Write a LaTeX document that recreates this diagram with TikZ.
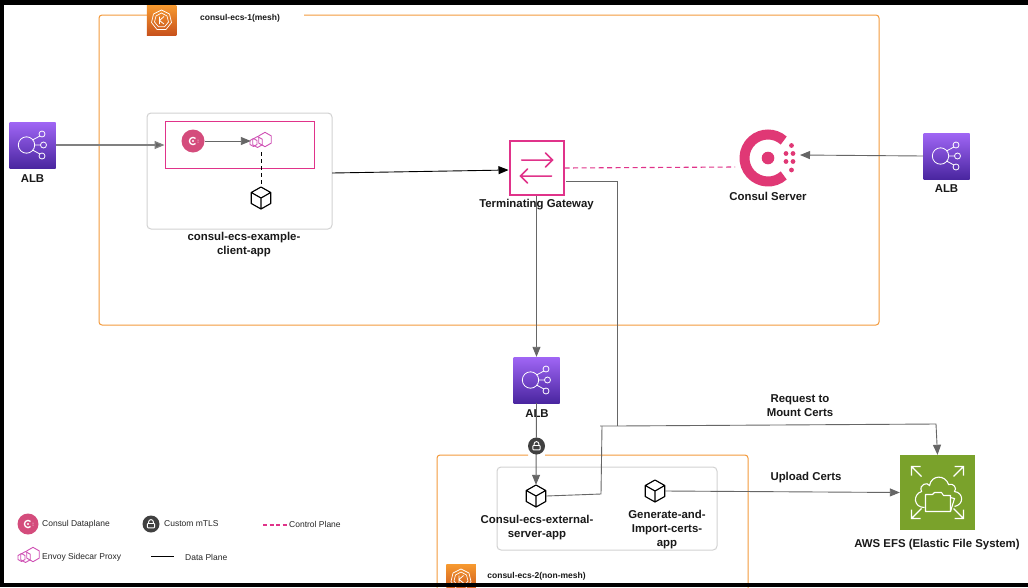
\documentclass[tikz,border=0pt]{standalone}
\usepackage{fontspec}
\setmainfont{Liberation Sans}
\usetikzlibrary{arrows.meta,calc}
\definecolor{orangeline}{HTML}{F39A3C}
\definecolor{pinkline}{HTML}{E0338A}
\definecolor{consulpink}{HTML}{E03875}
\definecolor{dataplanepink}{HTML}{D44C7C}
\definecolor{envoypink}{HTML}{CF4FB4}
\definecolor{flowgray}{HTML}{666666}
\definecolor{softgray}{HTML}{808080}
\definecolor{groupgray}{HTML}{D2D2D2}
\definecolor{lockgray}{HTML}{404040}
\definecolor{efsgreen}{HTML}{7AA22B}
\definecolor{albtop}{HTML}{A066F5}
\definecolor{albbot}{HTML}{4A26A0}
\definecolor{kubetop}{HTML}{F79A30}
\definecolor{kubebot}{HTML}{C8521C}
\tikzset{
  x=1pt,y=-1pt,
  cap10/.style={font=\fontsize{11.4}{14}\selectfont\bfseries,align=center,inner sep=0pt,text=black!90},
  cap8/.style={font=\fontsize{8.5}{10}\selectfont\bfseries,inner sep=0pt,text=black!90},
  legendtext/.style={font=\fontsize{8.5}{10}\selectfont,inner sep=0pt,anchor=west,text=black!85},
  flow/.style={draw=flowgray,line width=.9pt,-{Triangle[length=10pt,width=8pt]}},
  softflow/.style={draw=softgray,line width=1.3pt,-{Triangle[length=10pt,width=8pt,fill=flowgray]}},
  flowplain/.style={draw=flowgray,line width=.9pt},
  blackflow/.style={draw=black,line width=.9pt,-{Triangle[length=10pt,width=8pt]}},
  ctrl/.style={draw=pinkline,line width=1.1pt,dash pattern=on 5pt off 3.5pt},
  orangebox/.style={draw=orangeline,line width=1pt,rounded corners=3pt},
  groupbox/.style={draw=groupgray,line width=1pt,rounded corners=4pt},
  albshade/.style={shape=rectangle,minimum width=46pt,minimum height=46pt,inner sep=0pt,shade,shading angle=-35,top color=albtop,bottom color=albbot},
  kubeshade/.style={shape=rectangle,minimum width=29.5pt,minimum height=30pt,inner sep=0pt,shade,shading angle=-35,top color=kubetop,bottom color=kubebot},
  iconnode/.style={shape=rectangle,inner sep=0pt,minimum size=1pt},
  pics/albicon/.style={code={
    \draw[white,line width=.8pt] (-6,0) circle (8.2);
    \draw[white,line width=.8pt] (9.5,-11) circle (3) (11,0) circle (3) (9.5,11) circle (3);
    \draw[white,line width=.8pt] (0,-5) -- (7.4,-9) (2.2,0) -- (8,0) (0,5) -- (7.4,9);
  }},
  pics/cube/.style={code={
    \draw[black,line width=1.15pt,line join=round]
      (0,-11) -- (9.7,-5.5) -- (9.7,5.5) -- (0,11) -- (-9.7,5.5) -- (-9.7,-5.5) -- cycle
      (-9.7,-5.5) -- (0,0) -- (9.7,-5.5) (0,0) -- (0,11);
  }},
  pics/envoy/.style={code={
    \foreach \cx/\cy/\r in {-8.5/1.5/4,-4.5/1/5.5,3/-1.5/7.2}{
      \draw[envoypink,line width=.9pt,line join=round]
       (\cx,\cy-\r) -- (\cx+.87*\r,\cy-.5*\r) -- (\cx+.87*\r,\cy+.5*\r) -- (\cx,\cy+\r) -- (\cx-.87*\r,\cy+.5*\r) -- (\cx-.87*\r,\cy-.5*\r) -- cycle;
    }
  }},
  pics/kube/.style={code={
    \draw[white,line width=.7pt,line join=round]
      (0,-10) -- (8,-6) -- (10,2.5) -- (4.5,9.5) -- (-4.5,9.5) -- (-10,2.5) -- (-8,-6) -- cycle;
    \draw[white,line width=.7pt,line join=round]
      (0,-7) -- (5.5,-4) -- (7,2) -- (3,6.8) -- (-3,6.8) -- (-7,2) -- (-5.5,-4) -- cycle;
    \draw[white,line width=.8pt] (-2,-3.5) -- (-2,4) (2.5,-3.5) -- (-2,.5) -- (2.5,4);
  }},
  pics/miniconsul/.style={code={
    \draw[white,line width=1.3pt] (45:3.6) arc[start angle=45,end angle=315,radius=3.6];
    \fill[white] (0,0) circle (1.1);
    \fill[white] (5,-1) circle (.5) (5,1) circle (.5);
  }},
  pics/padlock/.style={code={
    \draw[white,line width=.9pt] (-2.4,-.5) -- (-2.4,-2) arc[start angle=180,end angle=360,radius=2.4] -- (2.4,-.5);
    \draw[white,line width=.9pt,rounded corners=.6pt] (-3.6,-.5) rectangle (3.6,3.8);
  }},
}
\begin{document}
\begin{tikzpicture}
\useasboundingbox (0,0) rectangle (1028,587);
\fill[white] (0,0) rectangle (1028,587);

% containers
\draw[orangebox] (147,15) -- (99,15) -- (99,325) -- (879,325) -- (879,15) -- (304,15);
\draw[orangebox] (545,455) -- (748,455) -- (748,600) -- (437,600) -- (437,455) -- (528,455);
\node[kubeshade] (kube1) at (161.5,20) {};
\pic at (kube1) {kube};
\node[kubeshade] (kube2) at (461,579) {};
\pic at (kube2) {kube};
\node[cap8] (kube1label) at (240,18.5) {consul-ecs-1(mesh)};
\node[cap8] (kube2label) at (536.5,576.5) {consul-ecs-2(non-mesh)};

\draw[groupbox] (147,113) rectangle (332,229);
\node[minimum width=185pt,minimum height=116pt,inner sep=0pt] (clientgroup) at (239.5,171) {};
\draw[groupbox] (497,467) rectangle (717,550);
\node[draw=pinkline,line width=1pt,minimum width=149pt,minimum height=47pt,inner sep=0pt] (sidecar) at (239.5,144.5) {};

% ALBs
\node[albshade] (alb1) at (32.5,145) {};
\pic at (alb1) {albicon};
\node[cap10] (alb1label) at (32.5,178.5) {ALB};
\node[albshade] (alb2) at (946.5,156) {};
\pic at (alb2) {albicon};
\node[cap10] (alb2label) at (946.5,188.5) {ALB};
\node[albshade] (alb3) at (536.5,380) {};
\pic at (alb3) {albicon};
\node[cap10] (alb3label) at (537,413.5) {ALB};

% client app
\node[circle,fill=dataplanepink,minimum size=23pt,inner sep=0pt] (dp) at (193,141) {};
\pic at (dp) {miniconsul};
\node[iconnode,minimum width=22pt,minimum height=20pt] (envoy1) at (262,141) {};
\pic at (envoy1) {envoy};
\node[iconnode,minimum width=20pt,minimum height=22pt] (cube1) at (261,198) {};
\pic at (cube1) {cube};
\node[cap10] (clientlabel) at (244,245) {consul-ecs-example-\\client-app};

% terminating gateway
\node[draw=pinkline,line width=2pt,fill=white,minimum size=54pt,inner sep=0pt] (tg) at (536.5,168) {};
\draw[pinkline,line width=1.5pt,line cap=round] ($(tg)+(-15,-8)$) -- ($(tg)+(15,-8)$) ($(tg)+(9,-15)$) -- ($(tg)+(16,-8)$) -- ($(tg)+(9,-1)$);
\draw[pinkline,line width=1.5pt,line cap=round] ($(tg)+(15,8)$) -- ($(tg)+(-15,8)$) ($(tg)+(-9,1)$) -- ($(tg)+(-16,8)$) -- ($(tg)+(-9,15)$);
\node[cap10] (tglabel) at (536.5,204.5) {Terminating Gateway};

% consul server
\node[iconnode,minimum size=56pt] (server) at (768,158) {};
\draw[consulpink,line width=10pt] ($(server)+(48:23.5)$) arc[start angle=48,end angle=312,radius=23.5];
\fill[consulpink] (server) circle (6.3);
\fill[consulpink] ($(server)+(23.5,-12.5)$) circle (2.4)
  ($(server)+(18,-4.5)$) circle (2.4) ($(server)+(25,-4.5)$) circle (2.4)
  ($(server)+(18,3.5)$) circle (2.4) ($(server)+(25,3.5)$) circle (2.4)
  ($(server)+(23.5,12)$) circle (2.4);
\node[cap10] (serverlabel) at (768,196.5) {Consul Server};

% lower group
\node[iconnode,minimum width=20pt,minimum height=22pt] (cube2) at (536,496) {};
\pic at (cube2) {cube};
\node[iconnode,minimum width=20pt,minimum height=22pt] (cube3) at (655,491) {};
\pic at (cube3) {cube};
\node[cap10] (cube2label) at (537,528) {Consul-ecs-external-\\server-app};
\node[cap10] (cube3label) at (667,530) {Generate-and-\\Import-certs-\\app};

% EFS
\node[fill=efsgreen,minimum size=75pt,inner sep=0pt] (efs) at (937.5,492.5) {};
\begin{scope}[shift={(efs)},white,line width=1.1pt,line join=miter]
  \draw (-16,-16) -- (-26,-26) (-26,-17) -- (-26,-26) -- (-17,-26);
  \draw (16,-16) -- (26,-26) (17,-26) -- (26,-26) -- (26,-17);
  \draw (-16,16) -- (-26,26) (-26,17) -- (-26,26) -- (-17,26);
  \draw (16,16) -- (26,26) (17,26) -- (26,26) -- (26,17);
  \draw (-13,15) .. controls (-24,15) and (-25,2) .. (-16,-1)
     .. controls (-19,-8) and (-10,-11) .. (-8,-7)
     .. controls (-6,-18) and (8,-18) .. (11,-8)
     .. controls (16,-10) and (20,-4) .. (17,-1)
     .. controls (26,0) and (27,12) .. (17,14);
  \draw[line join=round] (-12,19) -- (-12,2) -- (-5,2) -- (-3,0) -- (4,0) -- (6,3) -- (13,3) -- (13,19) -- cycle;
  \draw (13,19) -- (17,6) -- (13,5);
\end{scope}
\node[cap10] (efslabel) at (937,544.5) {AWS EFS (Elastic File System)};

% text labels on connectors
\node[cap10] (uploadlabel) at (806,477.5) {Upload Certs};
\node[cap10] (requestlabel) at (800,406) {Request to\\Mount Certs};

% junction helpers
\coordinate (tgout) at (566,181);
\coordinate (elbow1) at (617,181);
\coordinate (junction) at (617,426);
\coordinate (stub) at (600,426);
\coordinate (elbow2) at (602,426);
\coordinate (elbow3) at (601,494);
\coordinate (efselbow) at (936,424);

% connectors
\draw[softflow] (alb1.east) -- (alb1.east -| sidecar.west);
\draw[flow] (dp.east) -- (envoy1.west);
\draw[draw=black,line width=.9pt,dash pattern=on 4pt off 3pt] (261,152) -- (cube1.north);
\draw[blackflow] (clientgroup.east |- 0,173) -- ($(tg.west)+(0,2)$);
\draw[ctrl] (tg.east) -- (735,167);
\draw[flow] (alb2.west) -- (800,155);
\draw[flow] (tg.south) -- (alb3.north);
\draw[flowplain] (tgout) -- (elbow1) -- (junction);
\draw[flowplain,-{Triangle[length=10pt,width=8pt]}] (stub) -- (junction) -- (efselbow) -- (efs.north);
\draw[flowplain] (cube2.east) -- (elbow3) -- (elbow2);
\draw[flow] (alb3.south) -- (cube2.north);
\draw[flow] (cube3.east) -- (efs.west);

% lock on the ALB link
\node[circle,fill=lockgray,minimum size=17pt,inner sep=0pt] (lock1) at (536.5,446) {};
\pic at (lock1) {padlock};

% legend
\node[circle,fill=dataplanepink,minimum size=21pt,inner sep=0pt] (legdp) at (28,524) {};
\pic at (legdp) {miniconsul};
\node[legendtext] (legdptext) at (42,524) {Consul Dataplane};
\node[circle,fill=lockgray,minimum size=17pt,inner sep=0pt] (leglock) at (151,524) {};
\pic at (leglock) {padlock};
\node[legendtext] (leglocktext) at (164,524) {Custom mTLS};
\node[legendtext] (legctrltext) at (289,524) {Control Plane};
\coordinate (legctrlstart) at (263,525);
\draw[ctrl,dash pattern=on 4pt off 2.5pt] (legctrlstart) -- (legctrltext.west |- legctrlstart);
\node[iconnode,minimum width=22pt,minimum height=18pt] (legenvoy) at (30,556) {};
\pic at (legenvoy) {envoy};
\node[legendtext] (legenvoytext) at (42,557) {Envoy Sidecar Proxy};
\node[legendtext] (legdatatext) at (185,557) {Data Plane};
\coordinate (legdatastart) at (151,556);
\coordinate (legdataend) at (174,556);
\draw[black,line width=1pt] (legdatastart) -- (legdataend);

% black frame of the screenshot
\fill[black] (0,0) rectangle (1028,5);
\fill[black] (0,0) rectangle (4,587);
\fill[black] (0,583) rectangle (1028,587);
\end{tikzpicture}
\end{document}
